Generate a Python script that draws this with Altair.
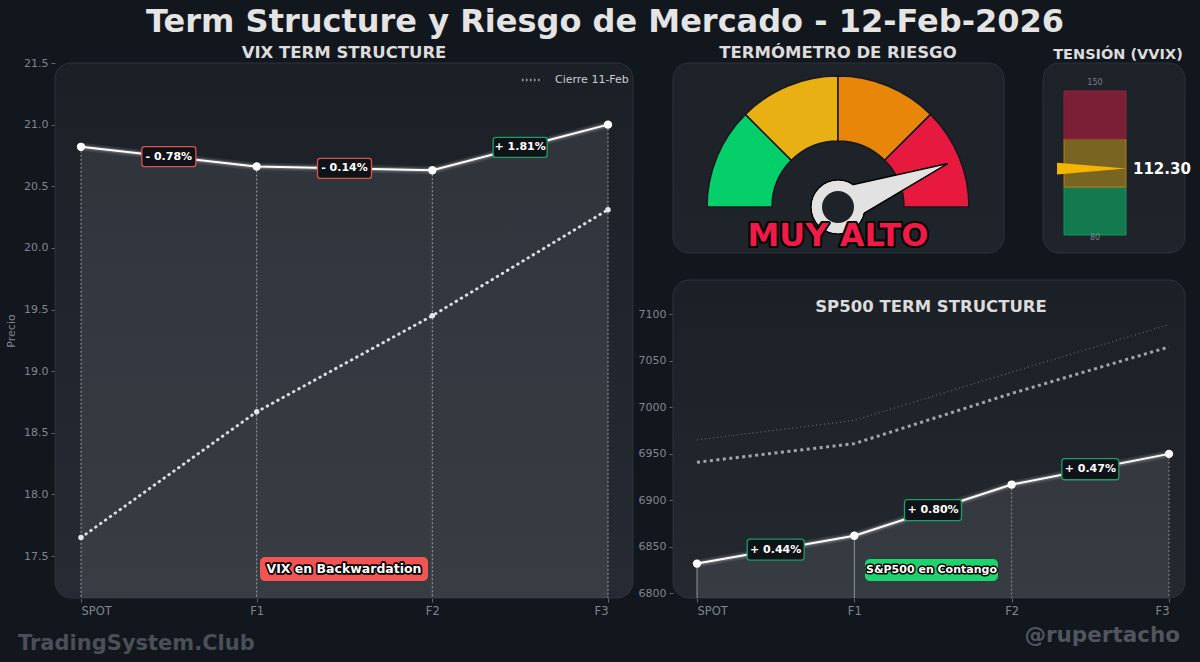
import json
import math
import altair as alt
import pandas as pd

FONT = "DejaVu Sans"

# ---------------- data ----------------
TENORS = ["SPOT", "F1", "F2", "F3"]

VIX_NOW = [20.82, 20.66, 20.63, 21.00]
VIX_PREV = [17.65, 18.67, 19.45, 20.31]
VIX_PCT = ["- 0.78%", "- 0.14%", "+ 1.81%"]
VIX_TICKS = [17.5, 18.0, 18.5, 19.0, 19.5, 20.0, 20.5, 21.0, 21.5]
PREV_NAME = "Cierre 11-Feb"

SP_NOW = [6832, 6862, 6917, 6950]
SP_PREV = [6941, 6961, 7015, 7065]
SP_PREV2 = [6965, 6986, 7038, 7089]
SP_PCT = ["+ 0.44%", "+ 0.80%", "+ 0.47%"]
SP_TICKS = [6800, 6850, 6900, 6950, 7000, 7050, 7100]

GAUGE_BOUNDS = [0, 25, 50, 75, 100]
GAUGE_SEGS = ["bajo", "medio", "alto", "muy alto"]
GAUGE_COLORS = ["#04cf6b", "#e8b012", "#e8860a", "#e8193f"]
RISK_SCORE = 88
RISK_LABEL = "MUY ALTO"

VVIX_BANDS = [80, 103.33, 126.67, 150]
VVIX_SEGS = ["calma", "normal", "tension"]
VVIX_FILL = ["#137a50", "#7a6422", "#7a1f35"]
VVIX_EDGE = ["#17945f", "#b07d1c", "#8c2440"]
VVIX_VALUE = 112.30
VVIX_MIN, VVIX_MAX = 80, 150

# ---------------- layout constants ----------------
BG = "#12161d"
AXIS_GRAY = "#7f8690"
GREEN = "#1a9e6a"
RED = "#d9534f"

VIX_X_RANGE = [81, 608]
VIX_Y_DOMAIN = [17.16, 21.5]
VIX_Y_RANGE = [598, 63]
SP_X_RANGE = [697, 1169]
SP_Y_DOMAIN = [6795, 7137]
SP_Y_RANGE = [598, 280]
VVIX_Y_RANGE = [235, 91]

ONE = pd.DataFrame({"k": [0]})
LABEL_EXPR = json.dumps(TENORS) + "[datum.value]"


def txt(s, x, y, size, color, weight="bold", align="center", **kw):
    return alt.Chart(ONE).mark_text(
        text=s, font=FONT, fontSize=size, fontWeight=weight, color=color,
        align=align, baseline="alphabetic", **kw
    ).encode(x=alt.value(x), y=alt.value(y))


def outlined(s, x, y, size, fill, outline="#000000", width=3, baseline="middle"):
    a = alt.Chart(ONE).mark_text(
        text=s, font=FONT, fontSize=size, fontWeight="bold", fill=fill,
        stroke=outline, strokeWidth=width, strokeJoin="round", baseline=baseline
    ).encode(x=alt.value(x), y=alt.value(y))
    b = alt.Chart(ONE).mark_text(
        text=s, font=FONT, fontSize=size, fontWeight="bold", fill=fill, baseline=baseline
    ).encode(x=alt.value(x), y=alt.value(y))
    return [a, b]


def panel(x0, x1, y0, y1, top="#1b2027", bot="#262b33"):
    return alt.Chart(ONE).mark_rect(
        cornerRadius=16, stroke="#2c333d", strokeWidth=1,
        fill=alt.LinearGradient(
            gradient="linear",
            stops=[alt.GradientStop(color=top, offset=0), alt.GradientStop(color=bot, offset=1)],
            x1=0, x2=0, y1=0, y2=1,
        ),
    ).encode(x=alt.value(x0), x2=alt.value(x1), y=alt.value(y0), y2=alt.value(y1))


def badge(x0, x1, y0, y1, fill):
    return alt.Chart(ONE).mark_rect(cornerRadius=5, fill=fill).encode(
        x=alt.value(x0), x2=alt.value(x1), y=alt.value(y0), y2=alt.value(y1)
    )


def xaxis():
    return alt.Axis(values=[0, 1, 2, 3], labelExpr=LABEL_EXPR, orient="bottom", offset=-64,
                    domain=False, grid=False, tickColor="#5f6670", tickSize=4,
                    labelColor=AXIS_GRAY, labelFont=FONT, labelFontSize=11.5,
                    labelPadding=3, title=None)


def xs(field, rng, axis=None):
    return alt.X(field, type="quantitative",
                 scale=alt.Scale(domain=[0, 3], range=rng, nice=False, zero=False),
                 axis=axis)


def ys(field, dom, rng, axis=None):
    return alt.Y(field, type="quantitative",
                 scale=alt.Scale(domain=dom, range=rng, nice=False, zero=False),
                 axis=axis)


BOX_PATH = ("M-0.9,-0.37 H0.9 Q1,-0.37 1,-0.27 V0.27 Q1,0.37 0.9,0.37 "
            "H-0.9 Q-1,0.37 -1,0.27 V-0.27 Q-1,-0.37 -0.9,-0.37 Z")

# ---------------- tables ----------------
vix_df = pd.DataFrame({"i": range(4), "tenor": TENORS, "now": VIX_NOW, "prev": VIX_PREV,
                       "serie": PREV_NAME})
vix_mid = pd.DataFrame({
    "m": [k + 0.5 for k in range(3)],
    "v": [(VIX_NOW[k] + VIX_NOW[k + 1]) / 2 for k in range(3)],
    "chg": [VIX_NOW[k + 1] - VIX_NOW[k] for k in range(3)],
    "lab": VIX_PCT,
})
sp_df = pd.DataFrame({"i": range(4), "tenor": TENORS, "now": SP_NOW, "prev": SP_PREV,
                      "prev2": SP_PREV2})
sp_mid = pd.DataFrame({
    "m": [k + 0.5 for k in range(3)],
    "v": [(SP_NOW[k] + SP_NOW[k + 1]) / 2 for k in range(3)],
    "chg": [SP_NOW[k + 1] - SP_NOW[k] for k in range(3)],
    "lab": SP_PCT,
})
gauge_df = pd.DataFrame({"lo": GAUGE_BOUNDS[:-1], "hi": GAUGE_BOUNDS[1:], "seg": GAUGE_SEGS})
vvix_df = pd.DataFrame({"lo": VVIX_BANDS[:-1], "hi": VVIX_BANDS[1:], "seg": VVIX_SEGS})

layers = []

# panels
layers += [
    panel(55, 633, 63, 598),
    panel(673, 1004, 63, 253, "#1d2229", "#1f242b"),
    panel(1043, 1185, 63, 253, "#1d2229", "#1f242b"),
    panel(673, 1185, 280, 598, "#1b2027", "#242930"),
]

# ---------------- VIX chart ----------------
VX = lambda f, axis=None: xs(f, VIX_X_RANGE, axis)
VY = lambda f, axis=None: ys(f, VIX_Y_DOMAIN, VIX_Y_RANGE, axis)

vix_yaxis = alt.Axis(values=VIX_TICKS, orient="left", offset=-55, domain=False, grid=False,
                     tickColor="#5f6670", tickSize=4, labelColor=AXIS_GRAY, labelFont=FONT,
                     labelFontSize=11, labelPadding=3, format=".1f", title="Precio",
                     titleColor=AXIS_GRAY, titleFont=FONT, titleFontSize=11,
                     titleFontWeight="normal", titlePadding=7)

layers.append(
    alt.Chart(vix_df).mark_area(color="#ffffff", opacity=0.085).encode(
        x=VX("i", xaxis()), y=VY("now", vix_yaxis), y2=alt.Y2(datum=VIX_Y_DOMAIN[0]))
)
layers.append(
    alt.Chart(vix_df).mark_rule(color="#a4aab2", strokeDash=[2, 2], strokeWidth=1.1, opacity=0.85).encode(
        x=VX("i"), y=VY("now"), y2=alt.Y2(datum=VIX_Y_DOMAIN[0]))
)
layers.append(
    alt.Chart(vix_df).mark_line(strokeDash=[0.5, 5.5], strokeCap="round", strokeWidth=3).encode(
        x=VX("i"), y=VY("prev"),
        color=alt.Color("serie:N", scale=alt.Scale(domain=[PREV_NAME], range=["#d9dce1"]),
                        legend=alt.Legend(orient="none", legendX=521, legendY=70, title=None,
                                          symbolType="stroke", symbolDash=[1, 3],
                                          symbolStrokeWidth=2.5, symbolSize=300,
                                          labelColor="#c9cdd3", labelFont=FONT,
                                          labelFontSize=11, labelOffset=14, padding=0)))
)
layers.append(
    alt.Chart(vix_df).mark_circle(color="#e4e6ea", size=30, opacity=1).encode(
        x=VX("i"), y=VY("prev"))
)
for w, op in [(8, 0.08), (4.5, 0.18)]:
    layers.append(
        alt.Chart(vix_df).mark_line(color="#ffffff", strokeWidth=w, opacity=op).encode(
            x=VX("i"), y=VY("now"))
    )
layers.append(
    alt.Chart(vix_df).mark_line(color="#ffffff", strokeWidth=2).encode(x=VX("i"), y=VY("now"))
)
layers.append(
    alt.Chart(vix_df).mark_circle(color="#ffffff", size=70, opacity=1).encode(
        x=VX("i"), y=VY("now"))
)
layers.append(
    alt.Chart(vix_mid).mark_point(shape=BOX_PATH, size=2916, filled=True, fill="#0f1216",
                                  strokeWidth=1.3, opacity=1).encode(
        x=VX("m"), y=VY("v"),
        stroke=alt.condition("datum.chg > 0", alt.value(GREEN), alt.value(RED)))
)
layers.append(
    alt.Chart(vix_mid).mark_text(font=FONT, fontSize=11, fontWeight="bold", color="#ffffff",
                                 baseline="middle").encode(
        x=VX("m"), y=VY("v"), text="lab:N")
)
layers.append(badge(260, 428, 557, 581, "#f25454"))
layers += outlined("VIX en Backwardation", 344, 569, 12.5, "#ffffff", width=3.4)

# ---------------- SP500 chart ----------------
SX = lambda f, axis=None: xs(f, SP_X_RANGE, axis)
SY = lambda f, axis=None: ys(f, SP_Y_DOMAIN, SP_Y_RANGE, axis)

sp_yaxis = alt.Axis(values=SP_TICKS, orient="left", offset=-673, domain=False, grid=False,
                    tickColor="#5f6670", tickSize=4, labelColor=AXIS_GRAY, labelFont=FONT,
                    labelFontSize=11, labelPadding=3, format="d", title=None)

layers.append(
    alt.Chart(sp_df).mark_area(color="#ffffff", opacity=0.09).encode(
        x=SX("i", xaxis()), y=SY("now", sp_yaxis), y2=alt.Y2(datum=SP_Y_DOMAIN[0]))
)
layers.append(
    alt.Chart(sp_df).transform_filter("datum.i < 2").mark_rule(
        color="#a8adb4", strokeWidth=1, opacity=0.8).encode(
        x=SX("i"), y=SY("now"), y2=alt.Y2(datum=SP_Y_DOMAIN[0]))
)
layers.append(
    alt.Chart(sp_df).transform_filter("datum.i >= 2").mark_rule(
        color="#9aa0a8", strokeWidth=1, strokeDash=[2, 2], opacity=0.8).encode(
        x=SX("i"), y=SY("now"), y2=alt.Y2(datum=SP_Y_DOMAIN[0]))
)
layers.append(
    alt.Chart(sp_df).mark_line(color="#646a73", strokeWidth=1.2, strokeDash=[1, 3]).encode(
        x=SX("i"), y=SY("prev2"))
)
layers.append(
    alt.Chart(sp_df).mark_line(color="#a2a6ac", strokeWidth=3, strokeDash=[3, 3.5]).encode(
        x=SX("i"), y=SY("prev"))
)
for w, op in [(8, 0.08), (4.5, 0.18)]:
    layers.append(
        alt.Chart(sp_df).mark_line(color="#ffffff", strokeWidth=w, opacity=op).encode(
            x=SX("i"), y=SY("now"))
    )
layers.append(
    alt.Chart(sp_df).mark_line(color="#ffffff", strokeWidth=2).encode(x=SX("i"), y=SY("now"))
)
layers.append(
    alt.Chart(sp_df).mark_circle(color="#ffffff", size=70, opacity=1).encode(
        x=SX("i"), y=SY("now"))
)
layers.append(
    alt.Chart(sp_mid).mark_point(shape=BOX_PATH, size=3249, filled=True, fill="#0f1216",
                                 strokeWidth=1.3, opacity=1).encode(
        x=SX("m"), y=SY("v"),
        stroke=alt.condition("datum.chg > 0", alt.value(GREEN), alt.value(RED)))
)
layers.append(
    alt.Chart(sp_mid).mark_text(font=FONT, fontSize=11, fontWeight="bold", color="#ffffff",
                                baseline="middle").encode(
        x=SX("m"), y=SY("v"), text="lab:N")
)
layers.append(badge(865, 998, 559, 581, "#1dd36e"))
layers += outlined("S&P500 en Contango", 931.5, 570, 11, "#ffffff", width=3)

# ---------------- gauge ----------------
GCX, GCY = 838, 207
layers.append(
    alt.Chart(gauge_df).mark_arc(radius=131, radius2=66, stroke="#15181d", strokeWidth=1.5).encode(
        theta=alt.Theta("lo:Q", stack=None,
                        scale=alt.Scale(domain=[0, 100], range=[-math.pi / 2, math.pi / 2])),
        theta2="hi:Q",
        color=alt.Color("seg:N", scale=alt.Scale(domain=GAUGE_SEGS, range=GAUGE_COLORS), legend=None),
        x=alt.value(GCX), y=alt.value(GCY))
)
layers.append(
    alt.Chart(ONE).mark_arc(theta=0, theta2=2 * math.pi, radius=27, radius2=0, fill="#e2e2e2",
                            stroke="#000000", strokeWidth=1.5).encode(
        x=alt.value(GCX), y=alt.value(GCY))
)
layers.append(
    alt.Chart(pd.DataFrame({"risk": [RISK_SCORE]})).mark_point(
        shape="M0,-1 L0.16,0 L-0.16,0 Z", size=55696, filled=True, fill="#e2e2e2",
        stroke="#000000", strokeWidth=1.5, opacity=1).encode(
        x=alt.value(GCX), y=alt.value(GCY),
        angle=alt.Angle("risk:Q", scale=alt.Scale(domain=[0, 100], range=[270, 450])))
)
layers.append(
    alt.Chart(ONE).mark_arc(theta=0, theta2=2 * math.pi, radius=26.2, radius2=0,
                            fill="#e2e2e2").encode(x=alt.value(GCX), y=alt.value(GCY))
)
layers.append(
    alt.Chart(ONE).mark_arc(theta=0, theta2=2 * math.pi, radius=16, radius2=0,
                            fill="#1e232a").encode(x=alt.value(GCX), y=alt.value(GCY))
)
layers += outlined(RISK_LABEL, GCX, 246, 32, "#f01a48", width=4, baseline="alphabetic")

# ---------------- VVIX ----------------
VVY = lambda f: alt.Y(f, type="quantitative",
                      scale=alt.Scale(domain=[VVIX_MIN, VVIX_MAX], range=VVIX_Y_RANGE,
                                      nice=False, zero=False),
                      axis=None)
layers.append(
    alt.Chart(vvix_df).mark_rect(strokeWidth=1).encode(
        x=alt.value(1064), x2=alt.value(1126), y=VVY("lo"), y2="hi:Q",
        fill=alt.Fill("seg:N", scale=alt.Scale(domain=VVIX_SEGS, range=VVIX_FILL), legend=None),
        stroke=alt.Stroke("seg:N", scale=alt.Scale(domain=VVIX_SEGS, range=VVIX_EDGE), legend=None))
)
layers.append(
    alt.Chart(pd.DataFrame({"v": [VVIX_MAX]})).mark_text(
        font=FONT, fontSize=8, color="#7a8089", baseline="middle", dy=-8).encode(
        x=alt.value(1095), y=VVY("v"), text=alt.Text("v:Q", format="d"))
)
layers.append(
    alt.Chart(pd.DataFrame({"v": [VVIX_MIN]})).mark_text(
        font=FONT, fontSize=8, color="#7a8089", baseline="middle", dy=3).encode(
        x=alt.value(1095), y=VVY("v"), text=alt.Text("v:Q", format="d"))
)
layers.append(
    alt.Chart(pd.DataFrame({"v": [VVIX_VALUE]})).mark_point(
        shape="M1,0 L-1,-0.17 L-1,0.17 Z", size=4761, filled=True, fill="#f5b400",
        opacity=1, strokeWidth=0).encode(x=alt.value(1091.5), y=VVY("v"))
)
layers.append(
    alt.Chart(pd.DataFrame({"v": [VVIX_VALUE]})).mark_text(
        font=FONT, fontSize=15, fontWeight="bold", color="#ffffff", align="left",
        baseline="middle").encode(
        x=alt.value(1133), y=VVY("v"), text=alt.Text("v:Q", format=".2f"))
)

# ---------------- titles ----------------
layers += [
    txt("Term Structure y Riesgo de Mercado - 12-Feb-2026", 605, 32, 32, "#e4e4e4"),
    txt("VIX TERM STRUCTURE", 344, 58, 16.5, "#dcdcdc"),
    txt("TERMÓMETRO DE RIESGO", 838, 58, 16.5, "#dcdcdc"),
    txt("TENSIÓN (VVIX)", 1118, 59, 14.5, "#dcdcdc"),
    txt("SP500 TERM STRUCTURE", 931, 312, 16.5, "#dcdcdc"),
    txt("TradingSystem.Club", 18, 650, 21, "#4a4f58", align="left"),
    txt("@rupertacho", 1180, 642, 21.5, "#50555e", align="right"),
]

chart = alt.layer(*layers).resolve_scale(
    x="independent", y="independent", color="independent", stroke="independent",
    fill="independent", theta="independent", angle="independent"
).properties(
    width=1200, height=662, padding=0,
    autosize=alt.AutoSizeParams(type="none"),
).configure(background=BG).configure_view(stroke=None)

chart.save("out.html", embed_options={"renderer": "svg", "actions": False})
